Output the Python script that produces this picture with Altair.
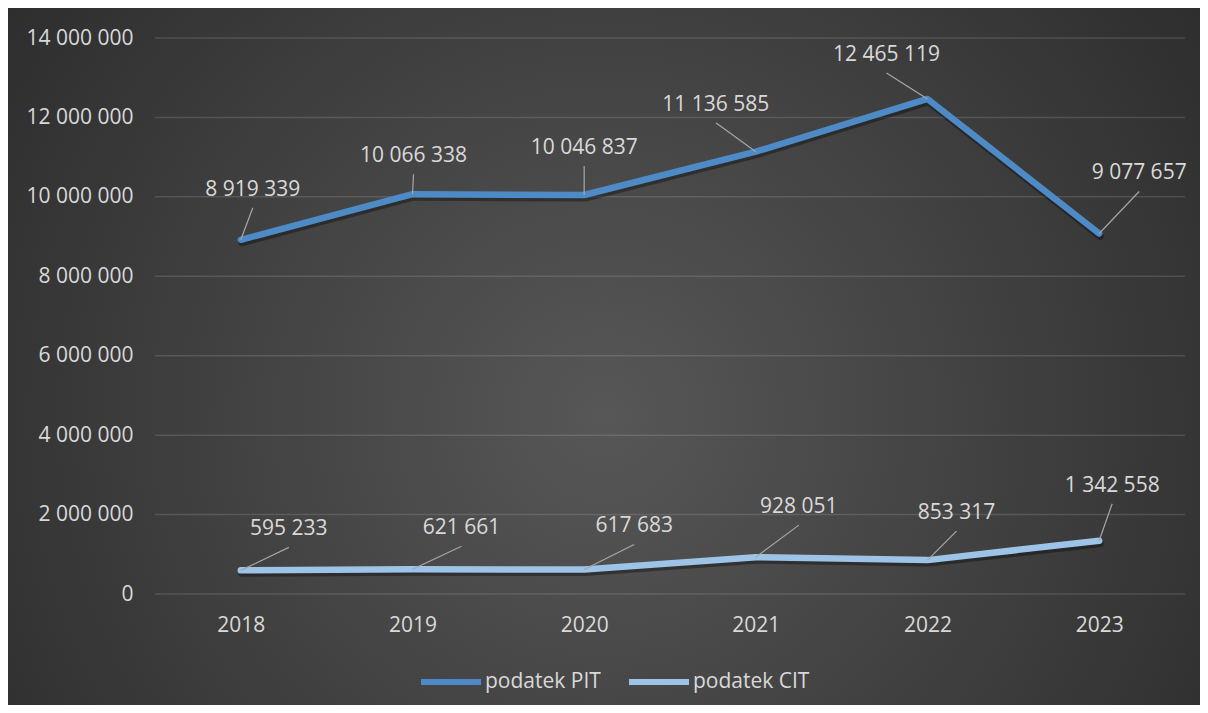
import altair as alt
import pandas as pd

# ---------------- data ----------------
years = [2018, 2019, 2020, 2021, 2022, 2023]
pit = [8919339, 10066338, 10046837, 11136585, 12465119, 9077657]
cit = [595233, 621661, 617683, 928051, 853317, 1342558]
series_names = ["podatek PIT", "podatek CIT"]
y_ticks = [0, 2000000, 4000000, 6000000, 8000000, 10000000, 12000000, 14000000]

# ---------------- styling ----------------
W, H = 1030, 556
PAD = {"left": 147, "top": 30, "right": 15, "bottom": 111}
YMAX = 14000000
X_DOMAIN = [2017.5, 2023.5]
PX_X = (X_DOMAIN[1] - X_DOMAIN[0]) / W
PX_Y = YMAX / H
FONT = "Open Sans"
TXT = "#d9d9d9"
COLORS = ["#4d8ac6", "#9dc3e6"]
# label offsets in pixels from the point (dx right, dy down)
LABEL_DX = {"podatek PIT": [12, 1, 0, -40, -41, 40],
            "podatek CIT": [48, 49, 50, 43, 29, 13]}
LABEL_DY = {"podatek PIT": [-50, -38, -47, -47, -44, -60],
            "podatek CIT": [-41, -41, -43, -50, -47, -55]}

rows = []
for name, vals in zip(series_names, [pit, cit]):
    for i, (yr, v) in enumerate(zip(years, vals)):
        rows.append({
            "year": yr, "value": v, "series": name,
            "label": f"{v:,}".replace(",", " "),
            "dx": LABEL_DX[name][i], "dy": LABEL_DY[name][i],
        })
df = pd.DataFrame(rows)

xs = alt.Scale(domain=X_DOMAIN, nice=False, zero=False)
ys = alt.Scale(domain=[0, YMAX], nice=False)

gradient = {
    "gradient": "radial",
    "x1": 0.5, "y1": 0.55, "r1": 0,
    "x2": 0.5, "y2": 0.55, "r2": 0.72,
    "stops": [
        {"offset": 0, "color": "#575757"},
        {"offset": 0.55, "color": "#3c3c3c"},
        {"offset": 1, "color": "#262626"},
    ],
}

bg = alt.Chart(pd.DataFrame({"k": [0]})).mark_rect(fill=gradient).encode(
    x=alt.value(-PAD["left"]), x2=alt.value(W + PAD["right"]),
    y=alt.value(-PAD["top"]), y2=alt.value(H + PAD["bottom"]),
)

grid = alt.Chart(pd.DataFrame({"tick": y_ticks})).mark_rule(
    color="#ffffff", opacity=0.13, strokeWidth=1.5
).encode(
    y=alt.Y("tick:Q", scale=ys, title=None),
)

x_enc = alt.X("year:Q", scale=xs, title=None, axis=alt.Axis(
    values=years, format="d", title=None, grid=False, domain=False, ticks=False,
    zindex=1, labelFont=FONT, labelFontSize=21, labelColor=TXT, labelPadding=20))
y_enc = alt.Y("value:Q", scale=ys, title=None, axis=alt.Axis(
    values=y_ticks, title=None, domain=False, ticks=False, grid=False, zindex=1,
    labelExpr="replace(format(datum.value, ','), regexp(',', 'g'), ' ')",
    labelFont=FONT, labelFontSize=21, labelColor=TXT, labelPadding=22))

shadow = alt.Chart(df).mark_line(
    color="#000000", opacity=0.35, strokeWidth=7, strokeCap="round",
    strokeJoin="round", xOffset=1, yOffset=3
).encode(
    x=alt.X("year:Q", scale=xs, title=None),
    y=alt.Y("value:Q", scale=ys, title=None),
    detail="series:N",
)

lines = alt.Chart(df).mark_line(
    strokeWidth=6.5, strokeCap="round", strokeJoin="round"
).encode(
    x=x_enc,
    y=y_enc,
    color=alt.Color("series:N", scale=alt.Scale(domain=series_names, range=COLORS),
                    legend=alt.Legend(
                        title=None, orient="none", legendX=263, legendY=611,
                        direction="horizontal", symbolType="stroke",
                        symbolSize=3600, symbolStrokeWidth=6,
                        labelFont=FONT, labelFontSize=21, labelColor=TXT,
                        columnPadding=16, labelOffset=1)),
)

leaders = alt.Chart(df).transform_calculate(
    lx=f"datum.year + datum.dx * {PX_X}",
    ly=f"datum.value - (datum.dy + 18) * {PX_Y}",
).mark_rule(color="#a6a6a6", strokeWidth=1.2).encode(
    x=alt.X("year:Q", scale=xs, title=None),
    y=alt.Y("value:Q", scale=ys, title=None),
    x2="lx:Q", y2="ly:Q",
)

labels = alt.Chart(df).transform_calculate(
    lx=f"datum.year + datum.dx * {PX_X}",
    ly=f"datum.value - datum.dy * {PX_Y}",
).mark_text(font=FONT, fontSize=21, color=TXT, align="center", baseline="middle").encode(
    x=alt.X("lx:Q", scale=xs, title=None),
    y=alt.Y("ly:Q", scale=ys, title=None),
    text="label:N",
)

chart = alt.layer(bg, grid, shadow, lines, leaders, labels).properties(
    width=W, height=H, padding=PAD, autosize=alt.AutoSizeParams(type="none"),
    background="#2b2b2b",
).configure_view(stroke=None)

chart.save("out.html", embed_options={"renderer": "svg", "actions": False})
